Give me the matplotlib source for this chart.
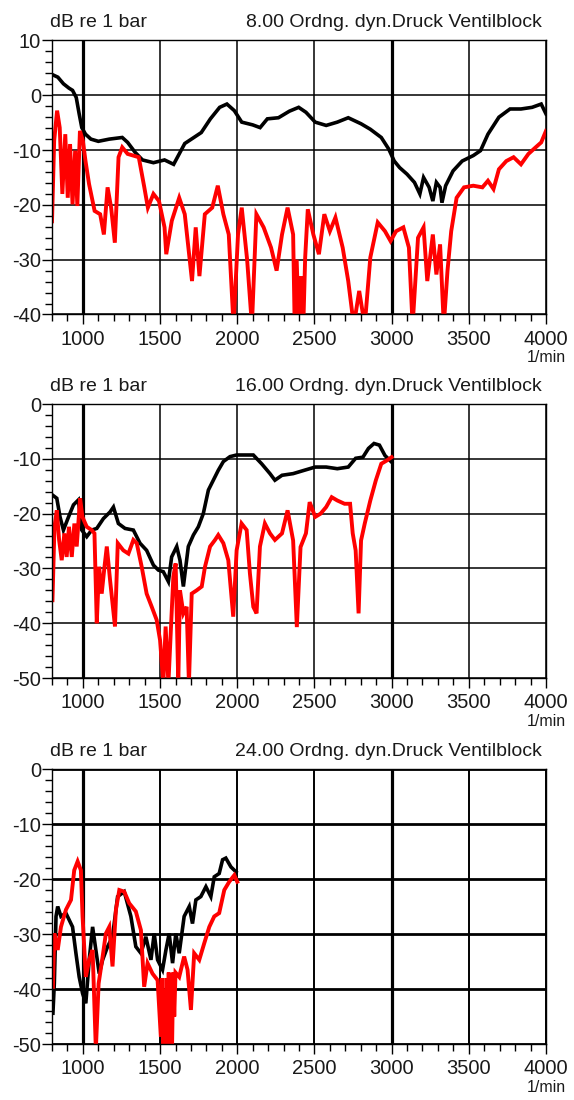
import matplotlib
matplotlib.use("Agg")
import matplotlib.pyplot as plt
from matplotlib.ticker import MultipleLocator

plt.rcParams['font.family'] = ['Liberation Sans', 'DejaVu Sans']
plt.rcParams['axes.unicode_minus'] = False

# --- 8. Ordnung ---
top_black_rpm = [800, 838, 874, 910, 933, 957, 976, 993, 1017, 1052,
                 1100, 1171, 1255, 1290, 1338, 1386, 1457, 1529, 1588, 1624,
                 1660, 1719, 1767, 1826, 1886, 1933, 1981, 2029, 2100, 2148,
                 2195, 2267, 2338, 2398, 2445, 2505, 2576, 2648, 2719, 2802,
                 2862, 2933, 2981, 3017, 3052, 3100, 3148, 3183, 3207, 3243,
                 3267, 3290, 3314, 3326, 3350, 3398, 3457, 3529, 3576, 3624,
                 3695, 3767, 3838, 3910, 3969, 4000]
top_black_db = [3.8, 3.3, 2.1, 1.3, 0.9, -0.4, -3.4, -5.9, -7.1, -8.0,
                -8.4, -8.0, -7.7, -8.6, -10.4, -11.8, -12.3, -11.8, -12.6, -10.7,
                -8.8, -7.7, -6.8, -4.3, -2.2, -1.6, -2.8, -4.9, -5.4, -5.9,
                -4.3, -4.1, -2.9, -2.2, -3.1, -4.9, -5.5, -4.9, -4.1, -5.2,
                -6.2, -7.7, -9.8, -12.0, -13.2, -14.4, -15.9, -18.0, -15.0, -16.8,
                -19.3, -15.9, -16.8, -19.6, -16.5, -13.8, -12.0, -11.0, -10.1, -7.1,
                -4.0, -2.5, -2.5, -2.2, -1.6, -3.4]

top_red_rpm = [800, 814, 833, 850, 867, 886, 902, 917, 933, 950,
               964, 981, 1000, 1017, 1040, 1076, 1112, 1136, 1160, 1183,
               1207, 1231, 1255, 1290, 1326, 1362, 1398, 1421, 1457, 1493,
               1529, 1540, 1576, 1624, 1660, 1707, 1731, 1755, 1790, 1838,
               1874, 1910, 1945, 1976, 2005, 2029, 2064, 2095, 2124, 2171,
               2219, 2255, 2290, 2326, 2362, 2372, 2385, 2398, 2412, 2428,
               2440, 2457, 2493, 2529, 2564, 2600, 2636, 2683, 2719, 2755,
               2790, 2826, 2862, 2910, 2957, 2993, 3029, 3076, 3112, 3136,
               3171, 3207, 3231, 3267, 3290, 3314, 3338, 3362, 3386, 3421,
               3469, 3529, 3588, 3624, 3660, 3695, 3743, 3790, 3838, 3886,
               3933, 3969, 4000]
top_red_db = [-23.0, -8.3, -2.8, -5.9, -18.0, -7.1, -18.7, -8.9, -19.9, -10.1,
              -20.2, -6.5, -8.3, -12.0, -16.2, -21.1, -21.7, -25.4, -16.8, -20.5,
              -26.9, -11.3, -9.5, -10.7, -11.0, -11.3, -16.8, -20.5, -18.0, -19.3,
              -24.1, -29.0, -22.9, -18.7, -21.7, -33.9, -24.1, -33.0, -21.7, -20.5,
              -16.5, -21.7, -25.4, -42.0, -25.4, -20.5, -30.0, -42.0, -21.7, -24.1,
              -27.8, -32.0, -25.4, -20.5, -25.4, -42.0, -30.0, -42.0, -33.0, -42.0,
              -29.6, -20.8, -25.4, -29.0, -21.7, -24.8, -22.3, -27.8, -33.9, -42.0,
              -35.7, -42.0, -29.6, -23.2, -24.8, -26.6, -24.8, -24.1, -27.8, -42.0,
              -26.0, -24.1, -33.9, -25.4, -32.7, -27.2, -42.0, -32.0, -24.8, -18.7,
              -16.8, -16.5, -16.8, -15.6, -17.1, -13.5, -12.0, -11.3, -12.6, -10.7,
              -9.5, -8.6, -6.5]

# --- 16. Ordnung ---
mid_black_rpm = [803, 831, 852, 874, 907, 939, 971, 993, 1025, 1057,
                 1090, 1133, 1176, 1198, 1230, 1273, 1327, 1370, 1413, 1457,
                 1489, 1521, 1554, 1575, 1608, 1629, 1651, 1683, 1716, 1748,
                 1780, 1813, 1845, 1877, 1910, 1953, 1996, 2050, 2104, 2158,
                 2212, 2244, 2290, 2362, 2433, 2505, 2576, 2648, 2719, 2767,
                 2814, 2850, 2886, 2921, 2957, 3000]
mid_black_db = [-16.6, -17.2, -20.6, -23.0, -20.6, -18.4, -17.5, -23.0, -24.2, -23.0,
                -22.7, -20.9, -19.7, -18.8, -21.8, -22.7, -23.0, -25.4, -26.7, -29.4,
                -30.3, -30.6, -32.4, -27.9, -26.0, -28.5, -33.3, -26.0, -23.9, -22.4,
                -20.0, -15.7, -13.9, -12.1, -10.5, -9.6, -9.3, -9.3, -9.3, -10.9,
                -12.7, -13.9, -13.0, -12.7, -12.1, -11.5, -11.5, -11.8, -11.5, -9.9,
                -9.7, -8.1, -7.2, -7.5, -9.4, -10.6]

mid_red_rpm = [803, 816, 831, 846, 863, 880, 895, 910, 928, 945,
               960, 982, 997, 1025, 1057, 1075, 1090, 1105, 1122, 1140,
               1155, 1176, 1208, 1226, 1262, 1295, 1327, 1349, 1381, 1413,
               1446, 1478, 1500, 1521, 1536, 1554, 1571, 1586, 1601, 1618,
               1629, 1651, 1672, 1687, 1705, 1737, 1770, 1791, 1824, 1856,
               1877, 1910, 1942, 1974, 1996, 2028, 2061, 2082, 2104, 2125,
               2147, 2179, 2212, 2244, 2290, 2326, 2362, 2386, 2410, 2445,
               2469, 2505, 2540, 2576, 2612, 2648, 2695, 2731, 2748, 2767,
               2786, 2802, 2826, 2862, 2898, 2933, 2969, 3000]
mid_red_db = [-35.8, -22.4, -19.4, -24.8, -28.5, -23.6, -27.9, -22.4, -27.9, -21.8,
              -26.0, -17.2, -20.6, -22.4, -23.0, -23.6, -40.0, -29.7, -34.6, -29.7,
              -26.0, -32.1, -40.6, -25.4, -26.7, -27.3, -24.8, -25.4, -29.7, -34.6,
              -37.0, -39.4, -43.1, -51.0, -40.6, -51.0, -40.6, -31.5, -29.1, -51.0,
              -34.0, -38.2, -37.0, -51.0, -34.6, -34.0, -33.3, -29.7, -26.0, -24.8,
              -23.9, -25.4, -28.5, -38.8, -26.7, -21.8, -23.0, -30.9, -37.0, -38.2,
              -26.0, -21.8, -23.6, -24.8, -23.6, -19.4, -24.9, -40.7, -26.1, -23.6,
              -17.9, -20.6, -20.0, -18.8, -17.0, -17.6, -18.2, -18.2, -23.6, -26.7,
              -38.2, -24.9, -21.8, -17.6, -13.9, -10.9, -10.3, -9.7]

# --- 24. Ordnung ---
bot_black_rpm = [806, 815, 826, 837, 858, 890, 933, 955, 976, 998,
                 1019, 1041, 1063, 1084, 1106, 1128, 1160, 1192, 1225, 1268,
                 1311, 1343, 1376, 1408, 1441, 1462, 1484, 1516, 1538, 1559,
                 1581, 1602, 1624, 1656, 1689, 1710, 1732, 1764, 1797, 1829,
                 1851, 1883, 1905, 1926, 1959, 1992]
bot_black_db = [-44.4, -39.0, -26.8, -25.0, -26.8, -26.2, -28.7, -33.5, -37.8, -40.8,
                -42.6, -34.7, -28.7, -32.9, -37.2, -34.7, -32.3, -30.5, -23.2, -22.3,
                -26.8, -32.3, -33.5, -30.5, -34.7, -29.9, -34.7, -36.5, -32.9, -29.9,
                -35.3, -29.9, -33.5, -26.8, -25.0, -28.1, -23.8, -23.2, -21.4, -23.2,
                -19.6, -19.0, -16.5, -16.2, -17.8, -18.7]

bot_red_rpm = [806, 815, 837, 858, 890, 923, 944, 966, 987, 998,
               1019, 1041, 1063, 1084, 1102, 1128, 1149, 1171, 1192, 1214,
               1236, 1268, 1300, 1343, 1376, 1397, 1419, 1451, 1484, 1505,
               1512, 1520, 1527, 1535, 1542, 1549, 1556, 1563, 1570, 1578,
               1585, 1592, 1600, 1624, 1656, 1678, 1700, 1721, 1754, 1786,
               1819, 1851, 1883, 1916, 1948, 1981, 2000]
bot_red_db = [-39.6, -29.9, -32.9, -28.7, -25.6, -23.8, -18.4, -16.8, -18.4, -26.8,
              -37.8, -34.7, -32.9, -51.0, -39.0, -34.1, -29.9, -28.7, -35.9, -25.6,
              -22.0, -22.3, -24.4, -25.9, -29.3, -39.6, -35.3, -37.2, -38.4, -48.7,
              -38.0, -51.0, -40.0, -51.0, -38.0, -49.0, -37.0, -51.0, -39.0, -50.0,
              -37.0, -45.0, -37.0, -37.8, -34.1, -36.5, -43.8, -33.5, -34.7, -31.7,
              -28.7, -26.8, -26.2, -22.0, -20.5, -19.3, -20.5]

titles = ["8.00 Ordng. dyn.Druck Ventilblock",
          "16.00 Ordng. dyn.Druck Ventilblock",
          "24.00 Ordng. dyn.Druck Ventilblock"]
ylims = [(-40, 10), (-50, 0), (-50, 0)]
series = [(top_black_rpm, top_black_db, top_red_rpm, top_red_db),
          (mid_black_rpm, mid_black_db, mid_red_rpm, mid_red_db),
          (bot_black_rpm, bot_black_db, bot_red_rpm, bot_red_db)]

boxes = [[0.0906, 0.7141, 0.8606, 0.2491],
         [0.0906, 0.3836, 0.8606, 0.2491],
         [0.0906, 0.0509, 0.8606, 0.2500]]
txt = '#1a1a1a'

fig = plt.figure(figsize=(5.74, 11.0), dpi=100)

for i in range(3):
    ax = fig.add_axes(boxes[i])
    bx, by, rx, ry = series[i]
    ax.plot(bx, by, color='black', lw=2.6, solid_joinstyle='miter')
    ax.plot(rx, ry, color='#ff0000', lw=2.8, solid_joinstyle='miter')

    ax.set_xlim(800, 4000)
    ax.set_ylim(*ylims[i])
    ax.set_xticks(range(1000, 4001, 500))
    ax.xaxis.set_minor_locator(MultipleLocator(100))
    ax.yaxis.set_major_locator(MultipleLocator(10))
    ax.yaxis.set_minor_locator(MultipleLocator(2))

    ax.grid(which='major', color='black', lw=1.1)
    for line, t in zip(ax.get_xgridlines(), ax.get_xticks()):
        if t in (1000, 3000):
            line.set_linewidth(2.3)
    if i == 2:
        for line in ax.get_ygridlines():
            line.set_linewidth(2.0)
        for line, t in zip(ax.get_xgridlines(), ax.get_xticks()):
            if t not in (1000, 3000):
                line.set_linewidth(1.4)

    for sp in ax.spines.values():
        sp.set_linewidth(1.0)
        sp.set_color('black')

    ax.tick_params(which='major', direction='out', length=7, width=1.0,
                   labelsize=14.5, labelcolor=txt)
    ax.tick_params(which='minor', direction='out', length=5, width=1.0)
    ax.tick_params(axis='y', which='major', pad=1)
    ax.tick_params(axis='x', which='major', pad=4)

    ax.text(-0.005, 1.064, "dB re 1 bar", transform=ax.transAxes,
            ha='left', va='center', fontsize=14, color=txt)
    ax.text(0.992, 1.064, titles[i], transform=ax.transAxes,
            ha='right', va='center', fontsize=14, color=txt)
    ax.text(1.041, -0.158, "1/min", transform=ax.transAxes,
            ha='right', va='center', fontsize=11.5, color=txt)

fig.savefig("out.png", dpi=100)
